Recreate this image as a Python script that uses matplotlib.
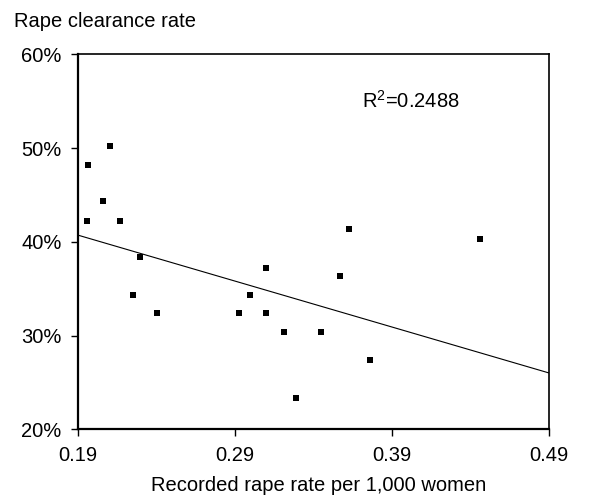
import matplotlib
matplotlib.use("Agg")
import matplotlib.pyplot as plt

# recorded rape rate per 1,000 women vs clearance rate (%)
rape_rate = [0.196, 0.1957, 0.2055, 0.210, 0.2166, 0.2293, 0.2247, 0.2399,
             0.2926, 0.2994, 0.3094, 0.3094, 0.321, 0.3446, 0.3289, 0.3567,
             0.3624, 0.376, 0.4459]
clearance = [48.2, 42.25, 44.3, 50.25, 42.25, 38.35, 34.3, 32.4,
             32.4, 34.3, 37.2, 32.4, 30.35, 30.35, 23.3, 36.3,
             41.33, 27.35, 40.27]

# linear trend as drawn in the original
trend_x = [0.19, 0.49]
trend_y = [40.7, 26.0]
r_squared = 0.2488

x_ticks = [0.19, 0.29, 0.39, 0.49]
y_ticks = [20, 30, 40, 50, 60]

plt.rcParams['font.family'] = ['Liberation Sans', 'DejaVu Sans']
plt.rcParams['mathtext.default'] = 'regular'

fs = 14.5

fig = plt.figure(figsize=(5.89, 4.98), dpi=100)
ax = fig.add_axes([78.3/589, 1-429.3/498, (549.3-78.3)/589, (429.3-54.3)/498])

ax.plot(rape_rate, clearance, 's', color='black', ms=4.3, mew=0)
ax.plot(trend_x, trend_y, color='black', lw=0.8)

ax.set_xlim(0.19, 0.49)
ax.set_ylim(20, 60)
ax.set_xticks(x_ticks)
ax.set_xticklabels(['%.2f' % v for v in x_ticks])
ax.set_yticks(y_ticks)
ax.set_yticklabels(['%d%%' % v for v in y_ticks])
ax.tick_params(axis='both', direction='out', length=5, width=1, labelsize=fs)
ax.tick_params(axis='y', pad=7)
ax.tick_params(axis='x', pad=7)

for side in ['left', 'bottom']:
    ax.spines[side].set_linewidth(1.6)
for side in ['top', 'right']:
    ax.spines[side].set_linewidth(1.2)

ax.text(0.3707, 54.3, 'R$^2$=%.4f' % r_squared, fontsize=fs, va='baseline')

fig.text(14/589, 1-21.7/498, 'Rape clearance rate', fontsize=fs, va='center', ha='left')
fig.text(319/589, 1-485/498, 'Recorded rape rate per 1,000 women', fontsize=fs, va='center', ha='center')

fig.savefig('out.png', dpi=100)
